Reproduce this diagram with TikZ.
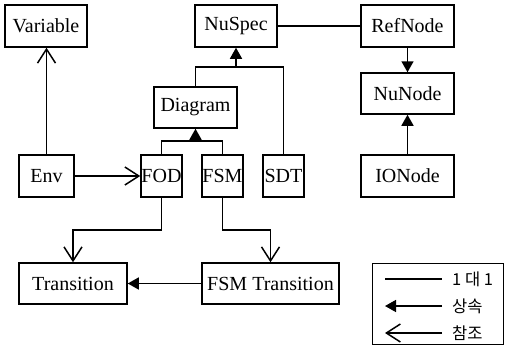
\documentclass[tikz,border=0pt]{standalone}
\usepackage{fontspec}
\setmainfont{Liberation Serif}
\newfontfamily\krfont{Noto Sans CJK KR}
\usetikzlibrary{arrows.meta}

\begin{document}
\begin{tikzpicture}[x=1pt,y=-1pt,
  box/.style={draw, line width=1.5pt, inner sep=0pt, minimum height=42pt,
    font=\fontsize{20}{22}\selectfont},
  link/.style={line width=1.5pt},
  inh/.style={link, -{Triangle[length=11pt,width=12pt]}},
  refer/.style={link, -{Straight Barb[length=14pt,width=18pt,line width=1.5pt]}},
  legtext/.style={anchor=west, inner sep=0pt, font=\krfont\fontsize{16.5}{18}\selectfont}]
  \useasboundingbox (0,0) rectangle (505,348);

  % classes
  \node[box, minimum width=82pt] (Variable) at (46,26) {Variable};
  \node[box, minimum width=82pt] (NuSpec) at (236,26) {NuSpec};
  \node[box, minimum width=93pt] (RefNode) at (407.5,26) {RefNode};
  \node[box, minimum width=93pt, minimum height=41pt] (NuNode) at (407.5,93.5) {NuNode};
  \node[box, minimum width=83pt, minimum height=41pt] (Diagram) at (195.5,107.5) {Diagram};
  \node[box, minimum width=55pt] (Env) at (46.5,176) {Env};
  \node[box, minimum width=41pt] (FOD) at (161.5,176) {FOD};
  \node[box, minimum width=41pt] (FSM) at (222.5,176) {FSM};
  \node[box, minimum width=41pt] (SDT) at (283.5,176) {SDT};
  \node[box, minimum width=93pt] (IONode) at (407.5,176) {IONode};
  \node[box, minimum width=108pt, minimum height=41pt] (Transition) at (73,283.5) {Transition};
  \node[box, minimum width=137pt, minimum height=41pt] (FSMT) at (270.5,283.5) {FSM Transition};

  % junction points
  \coordinate (jTop) at (236,67);
  \coordinate (jMid) at (195.5,141);

  % one-to-one
  \draw[link] (NuSpec) -- (RefNode);
  % inheritance
  \draw[inh] (RefNode) -- (NuNode);
  \draw[inh] (IONode) -- (NuNode);
  \draw[link] (Diagram.north) |- (jTop) -| (SDT.north);
  \draw[inh] (jTop) -- (NuSpec.south);
  \draw[link] (FOD.north) |- (jMid) -| (FSM.north);
  \draw[inh] (jMid) -- (Diagram.south);
  \draw[inh] (FSMT) -- (Transition);
  % references
  \draw[refer] (Env.north) -- (Env.north |- Variable.south);
  \draw[refer] (Env) -- (FOD);
  \draw[refer] (FOD.south) -- ++(0,32) -| (Transition.north);
  \draw[refer] (FSM.south) -- ++(0,32) -| (FSMT.north);

  % legend
  \node[draw, line width=1.5pt, minimum width=131pt, minimum height=81pt, inner sep=0pt] (legend) at (438,304) {};
  \coordinate (la1) at (385,279); \coordinate (lb1) at (442,279);
  \coordinate (la2) at (385,306); \coordinate (lb2) at (442,306);
  \coordinate (la3) at (385,333); \coordinate (lb3) at (442,333);
  \draw[link] (la1) -- (lb1);
  \draw[inh] (lb2) -- (la2);
  \draw[refer] (lb3) -- (la3);
  \node[legtext] (t1) at (452,279) {1 대 1};
  \node[legtext] (t2) at (452,306) {상속};
  \node[legtext] (t3) at (452,333) {참조};
\end{tikzpicture}
\end{document}
